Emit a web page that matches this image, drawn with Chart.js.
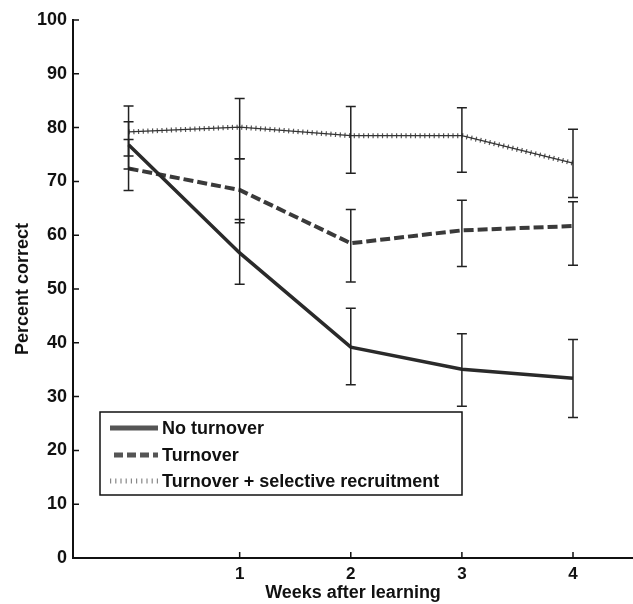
<!DOCTYPE html>
<html>
<head>
<meta charset="utf-8">
<script src="https://cdn.jsdelivr.net/npm/chart.js@4.4.1/dist/chart.umd.min.js"></script>
<style>
    html, body { margin: 0; padding: 0; background: #fff; }
    #wrap { width: 633px; height: 604px; position: relative; }
</style>
</head>
<body>
<div id="wrap"><canvas id="chart"></canvas></div>
<script>
// weeks after learning (0 = right after learning)
const weeks = [0, 1, 2, 3, 4];
const xTicks = [1, 2, 3, 4];
const yTicks = [0, 10, 20, 30, 40, 50, 60, 70, 80, 90, 100];

const noTurnover = [76.8, 56.7, 39.2, 35.1, 33.4];
const noTurnoverLow = [72.3, 50.9, 32.2, 28.2, 26.1];
const noTurnoverHigh = [81.1, 62.9, 46.4, 41.7, 40.6];

const turnover = [72.4, 68.4, 58.5, 60.9, 61.7];
const turnoverLow = [68.3, 62.3, 51.3, 54.2, 54.4];
const turnoverHigh = [77.8, 74.2, 64.8, 66.5, 66.2];

const selective = [79.2, 80.1, 78.5, 78.5, 73.4];
const selectiveLow = [74.7, 74.2, 71.5, 71.7, 67.0];
const selectiveHigh = [84.0, 85.4, 83.9, 83.7, 79.7];

const legendLabels = ["No turnover", "Turnover", "Turnover + selective recruitment"];

const FONT = "'Liberation Sans', Arial, sans-serif";

const toPoints = (ys) => weeks.map((w, i) => ({ x: w, y: ys[i] }));

const errorSets = [
    { low: noTurnoverLow, high: noTurnoverHigh },
    { low: turnoverLow, high: turnoverHigh },
    { low: selectiveLow, high: selectiveHigh },
];

// vertical error bars with small caps
const errorBars = {
    id: "errorBars",
    afterDatasetsDraw(chart) {
        const { ctx, scales: { x, y } } = chart;
        ctx.save();
        ctx.strokeStyle = "#222";
        ctx.lineWidth = 1.5;
        errorSets.forEach((set) => {
            weeks.forEach((w, i) => {
                const px = x.getPixelForValue(w);
                const top = y.getPixelForValue(set.high[i]);
                const bot = y.getPixelForValue(set.low[i]);
                ctx.beginPath();
                ctx.moveTo(px, top);
                ctx.lineTo(px, bot);
                ctx.moveTo(px - 5, top);
                ctx.lineTo(px + 5, top);
                ctx.moveTo(px - 5, bot);
                ctx.lineTo(px + 5, bot);
                ctx.stroke();
            });
        });
        ctx.restore();
    },
};

// tick marks pointing into the plot, plus the boxed legend
const axisDecor = {
    id: "axisDecor",
    afterDraw(chart) {
        const { ctx, chartArea, scales: { x, y } } = chart;
        ctx.save();
        ctx.strokeStyle = "#111";
        ctx.lineWidth = 1.5;
        ctx.beginPath();
        yTicks.forEach((v) => {
            const py = y.getPixelForValue(v);
            ctx.moveTo(chartArea.left, py);
            ctx.lineTo(chartArea.left + 6, py);
        });
        xTicks.forEach((v) => {
            const px = x.getPixelForValue(v);
            ctx.moveTo(px, chartArea.bottom);
            ctx.lineTo(px, chartArea.bottom - 6);
        });
        ctx.stroke();

        // legend box
        const bx = 100, by = 412, bw = 362, bh = 83;
        ctx.fillStyle = "#fff";
        ctx.fillRect(bx, by, bw, bh);
        ctx.strokeStyle = "#111";
        ctx.lineWidth = 1.5;
        ctx.strokeRect(bx, by, bw, bh);

        const rows = [428, 455, 481];
        ctx.strokeStyle = "#555";
        // solid sample
        ctx.lineWidth = 5;
        ctx.setLineDash([]);
        ctx.beginPath();
        ctx.moveTo(110, rows[0]);
        ctx.lineTo(158, rows[0]);
        ctx.stroke();
        // dashed sample
        ctx.setLineDash([9, 4]);
        ctx.beginPath();
        ctx.moveTo(114, rows[1]);
        ctx.lineTo(158, rows[1]);
        ctx.stroke();
        // dotted sample
        ctx.lineWidth = 5;
        ctx.strokeStyle = "#888";
        ctx.setLineDash([1.2, 4]);
        ctx.beginPath();
        ctx.moveTo(110, rows[2]);
        ctx.lineTo(158, rows[2]);
        ctx.stroke();
        ctx.setLineDash([]);

        ctx.fillStyle = "#111";
        ctx.font = "bold 18px " + FONT;
        ctx.textBaseline = "middle";
        ctx.textAlign = "left";
        legendLabels.forEach((t, i) => ctx.fillText(t, 162, rows[i] + 1));
        ctx.restore();
    },
};

const ctx = document.getElementById("chart").getContext("2d");

new Chart(ctx, {
    type: "line",
    data: {
        datasets: [
            {
                label: legendLabels[0],
                data: toPoints(noTurnover),
                borderColor: "#2a2a2a",
                borderWidth: 3.5,
                pointRadius: 0,
                tension: 0,
            },
            {
                label: legendLabels[1],
                data: toPoints(turnover),
                borderColor: "#3a3a3a",
                borderWidth: 4,
                borderDash: [10, 4],
                pointRadius: 0,
                tension: 0,
            },
            {
                label: legendLabels[2],
                data: toPoints(selective),
                borderColor: "#333",
                borderWidth: 1.3,
                pointRadius: 0,
                tension: 0,
            },
            {
                // small cross hatches along the selective line
                label: "selective marks",
                data: toPoints(selective),
                borderColor: "#555",
                borderWidth: 5,
                borderDash: [1.2, 3.5],
                pointRadius: 0,
                tension: 0,
            },
        ],
    },
    options: {
        responsive: true,
        maintainAspectRatio: false,
        animation: false,
        layout: { padding: { top: 20, right: 0, left: 0, bottom: 0 } },
        plugins: {
            legend: { display: false },
            tooltip: { enabled: false },
        },
        scales: {
            x: {
                type: "linear",
                min: -0.5,
                max: 4.54,
                afterBuildTicks: (scale) => {
                    scale.ticks = xTicks.map((v) => ({ value: v }));
                },
                afterFit: (scale) => {
                    scale.height = 46;
                },
                ticks: {
                    color: "#111",
                    padding: -2,
                    font: { family: FONT, size: 17, weight: "bold" },
                },
                grid: { display: false },
                border: { display: true, color: "#111", width: 2 },
                title: {
                    display: true,
                    text: "Weeks after learning",
                    color: "#111",
                    padding: { top: 0, bottom: 0 },
                    font: { family: FONT, size: 18, weight: "bold" },
                },
            },
            y: {
                type: "linear",
                min: 0,
                max: 100,
                afterBuildTicks: (scale) => {
                    scale.ticks = yTicks.map((v) => ({ value: v }));
                },
                afterFit: (scale) => {
                    scale.width = 73;
                },
                ticks: {
                    color: "#111",
                    padding: -2,
                    font: { family: FONT, size: 18, weight: "bold" },
                },
                grid: { display: false },
                border: { display: true, color: "#111", width: 2 },
                title: {
                    display: true,
                    text: "Percent correct",
                    color: "#111",
                    padding: { top: 12, bottom: 0 },
                    font: { family: FONT, size: 18, weight: "bold" },
                },
            },
        },
    },
    plugins: [errorBars, axisDecor],
});
</script>
</body>
</html>
